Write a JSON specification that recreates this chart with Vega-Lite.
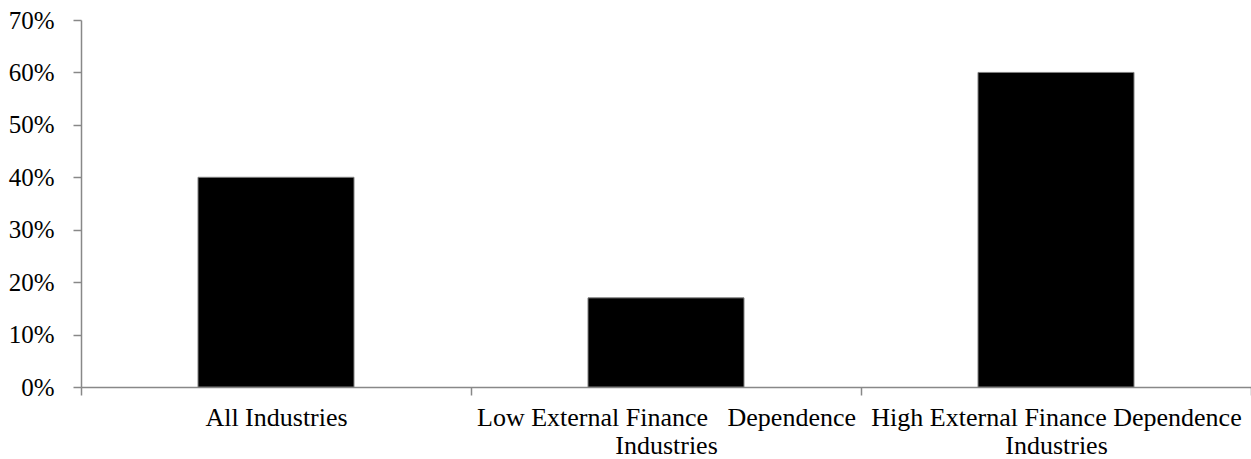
{
  "$schema": "https://vega.github.io/schema/vega-lite/v6.json",
  "width": 1170,
  "height": 367,
  "autosize": {"type": "none"},
  "padding": {"left": 81, "top": 20, "right": 0, "bottom": 72},
  "background": "white",
  "config": {"view": {"stroke": null}},
  "data": {
    "values": [
      {"category": "All Industries", "share": 0.40},
      {"category": "Low External Finance Dependence Industries", "share": 0.17},
      {"category": "High External Finance Dependence Industries", "share": 0.60}
    ]
  },
  "mark": {"type": "bar", "color": "#000000", "stroke": "#808080", "strokeWidth": 1, "width": {"band": 0.4}},
  "encoding": {
    "x": {
      "field": "category",
      "type": "nominal",
      "sort": null,
      "scale": {"paddingInner": 0, "paddingOuter": 0},
      "axis": {
        "title": null,
        "labelAngle": 0,
        "labelFont": "Liberation Serif",
        "labelFontSize": 26,
        "labelColor": "#000000",
        "labelLineHeight": 28,
        "labelBaseline": "top",
        "labelPadding": 9,
        "labelOverlap": false,
        "labelBound": false,
        "labelLimit": 0,
        "labelExpr": "!datum.label ? '' : datum.label == 'All Industries' ? datum.label : datum.label == 'Low External Finance Dependence Industries' ? ['Low External Finance \u00a0\u00a0Dependence', 'Industries'] : ['High External Finance Dependence', 'Industries']",
        "ticks": true,
        "tickBand": "extent",
        "tickSize": 8,
        "tickColor": "#888888",
        "tickWidth": 1.5,
        "domainColor": "#888888",
        "domainWidth": 1.5
      }
    },
    "y": {
      "field": "share",
      "type": "quantitative",
      "scale": {"domain": [0, 0.7], "nice": false},
      "axis": {
        "title": null,
        "values": [0, 0.1, 0.2, 0.3, 0.4, 0.5, 0.6, 0.7],
        "format": ".0%",
        "grid": false,
        "labelFont": "Liberation Serif",
        "labelFontSize": 25,
        "labelColor": "#000000",
        "labelPadding": 19,
        "ticks": true,
        "tickSize": 8,
        "tickColor": "#888888",
        "tickWidth": 1.5,
        "domainColor": "#888888",
        "domainWidth": 1.5
      }
    }
  }
}
